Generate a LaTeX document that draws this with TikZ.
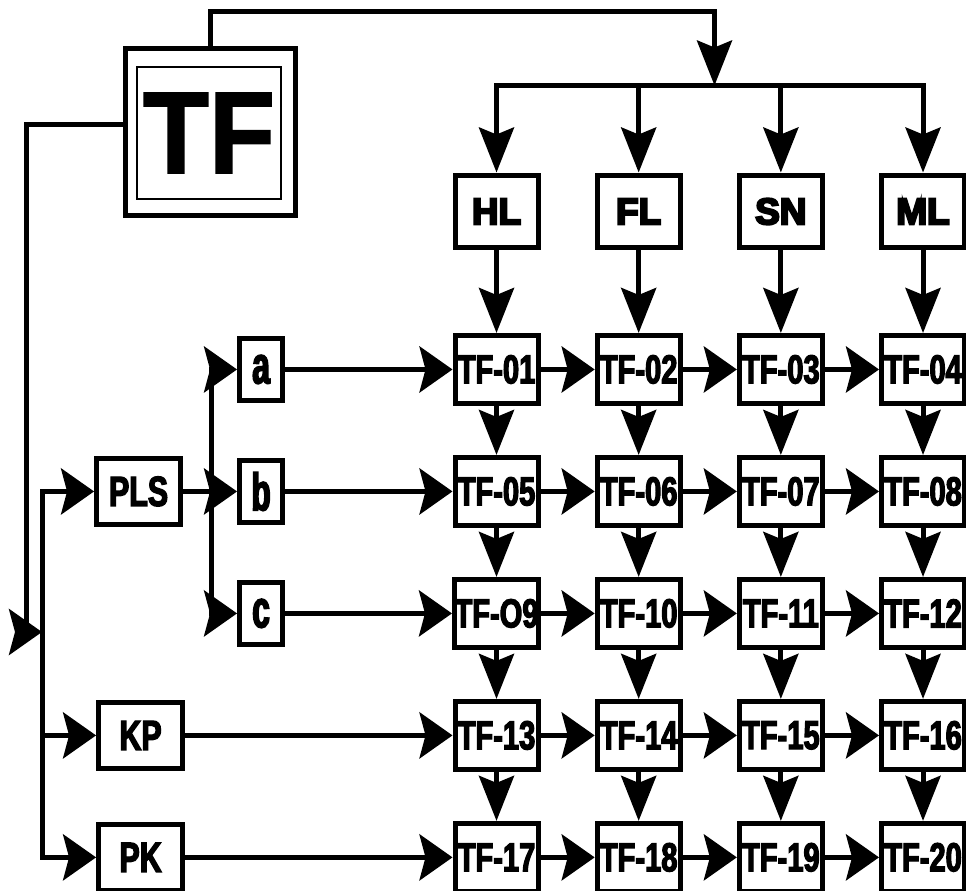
\documentclass[tikz,border=0pt]{standalone}
\usepackage{fontspec}
\setmainfont{Liberation Sans}
\newfontfamily\headfont[BoldFeatures={FakeBold=6}]{Liberation Sans}
\newfontfamily\narrowfont[FakeStretch=0.72, BoldFeatures={FakeBold=3}]{Liberation Sans}
\newfontfamily\letterfont[FakeStretch=0.6, BoldFeatures={FakeBold=3}]{Liberation Sans}
\newfontfamily\bigfont[FakeStretch=0.93, BoldFeatures={FakeBold=1.5}]{Liberation Sans}
\usepackage{tikz}
\usetikzlibrary{positioning,arrows.meta}

\begin{document}
\begin{tikzpicture}[x=0.02cm, y=-0.02cm, on grid,
    block/.style={draw, line width=0.1cm, inner sep=0pt, minimum width=1.66cm, minimum height=1.36cm, font=\narrowfont\bfseries\fontsize{23}{24}\selectfont},
    head/.style={block, minimum height=1.46cm, font=\headfont\bfseries\fontsize{21}{22}\selectfont},
    side/.style={block, minimum width=1.68cm, minimum height=1.32cm, font=\narrowfont\bfseries\fontsize{24}{25}\selectfont},
    letter/.style={block, minimum width=0.86cm, minimum height=1.24cm, font=\letterfont\bfseries\fontsize{30}{31}\selectfont},
    arrow/.style={-{Stealth[length=0.66cm, width=0.92cm, inset=0.12cm]}, line width=0.1cm},
    darrow/.style={-{Stealth[length=0.9cm, width=0.7cm, inset=0.14cm]}, line width=0.1cm},
]
\useasboundingbox (0,0) rectangle (966,891);
\clip (0,0) rectangle (966,891);

\node[block, minimum width=3.4cm, minimum height=3.34cm] (tf) at (210.5,132) {};
\node[draw, line width=0.04cm, inner sep=0pt, minimum width=2.88cm, minimum height=2.64cm, font=\bigfont\bfseries\fontsize{66}{66}\selectfont] (tfin) at (209,133) {TF};

% top row
\node[head] (hl) at (496.5,211.5) {HL};
\node[head, right=2.844cm of hl] (fl) {FL};
\node[head, right=2.844cm of fl] (sn) {SN};
\node[head, right=2.844cm of sn] (ml) {ML};

% grid
\node[block, below=3.16cm of hl] (t1) {TF-01};
\node[block, right=2.844cm of t1] (t2) {TF-02};
\node[block, right=2.844cm of t2] (t3) {TF-03};
\node[block, right=2.844cm of t3] (t4) {TF-04};
\node[block, below=2.44cm of t1] (t5) {TF-05};
\node[block, right=2.844cm of t5] (t6) {TF-06};
\node[block, right=2.844cm of t6] (t7) {TF-07};
\node[block, right=2.844cm of t7] (t8) {TF-08};
\node[block, below=2.44cm of t5] (t9) {TF-O9};
\node[block, right=2.844cm of t9] (t10) {TF-10};
\node[block, right=2.844cm of t10] (t11) {TF-11};
\node[block, right=2.844cm of t11] (t12) {TF-12};
\node[block, below=2.44cm of t9] (t13) {TF-13};
\node[block, right=2.844cm of t13] (t14) {TF-14};
\node[block, right=2.844cm of t14] (t15) {TF-15};
\node[block, right=2.844cm of t15] (t16) {TF-16};
\node[block, below=2.44cm of t13] (t17) {TF-17};
\node[block, right=2.844cm of t17] (t18) {TF-18};
\node[block, right=2.844cm of t18] (t19) {TF-19};
\node[block, right=2.844cm of t19] (t20) {TF-20};

% left side
\node[letter, left=4.71cm of t1] (a) {a};
\node[letter, left=4.71cm of t5] (b) {b};
\node[letter, left=4.71cm of t9] (c) {c};
\node[side, left=2.45cm of b] (pls) {PLS};
\node[side, left=7.12cm of t13] (kp) {KP};
\node[side, left=7.12cm of t17] (pk) {PK};

\coordinate (tc) at (714.5,12);
\coordinate (bus) at (714.5,85.5);
\coordinate (lc) at (26,632);
\coordinate (lbus) at (42,632);
\coordinate (pbus) at (211,491.5);

\draw[darrow] (tf.north) |- (tc) -- (bus);
\draw[darrow] (bus) -| (hl); \draw[darrow] (bus) -| (fl); \draw[darrow] (bus) -| (sn); \draw[darrow] (bus) -| (ml);
\draw[darrow] (hl)--(t1); \draw[darrow] (fl)--(t2); \draw[darrow] (sn)--(t3); \draw[darrow] (ml)--(t4);

\draw[arrow] ([yshift=0.14cm]tf.west) -| (lc) -- (lbus);
\draw[arrow] (lbus) |- (pls); \draw[arrow] (lbus) |- (kp); \draw[arrow] (lbus) |- (pk);
\draw[arrow] (pls) -- (b); \draw[arrow] (pbus) |- (a); \draw[arrow] (pbus) |- (c);
\draw[arrow] (a)--(t1); \draw[arrow] (b)--(t5); \draw[arrow] (c)--(t9);
\draw[arrow] (kp)--(t13); \draw[arrow] (pk)--(t17);

\draw[arrow] (t1)--(t2); \draw[arrow] (t2)--(t3); \draw[arrow] (t3)--(t4);
\draw[arrow] (t5)--(t6); \draw[arrow] (t6)--(t7); \draw[arrow] (t7)--(t8);
\draw[arrow] (t9)--(t10); \draw[arrow] (t10)--(t11); \draw[arrow] (t11)--(t12);
\draw[arrow] (t13)--(t14); \draw[arrow] (t14)--(t15); \draw[arrow] (t15)--(t16);
\draw[arrow] (t17)--(t18); \draw[arrow] (t18)--(t19); \draw[arrow] (t19)--(t20);

\draw[darrow] (t1)--(t5); \draw[darrow] (t2)--(t6); \draw[darrow] (t3)--(t7); \draw[darrow] (t4)--(t8);
\draw[darrow] (t5)--(t9); \draw[darrow] (t6)--(t10); \draw[darrow] (t7)--(t11); \draw[darrow] (t8)--(t12);
\draw[darrow] (t9)--(t13); \draw[darrow] (t10)--(t14); \draw[darrow] (t11)--(t15); \draw[darrow] (t12)--(t16);
\draw[darrow] (t13)--(t17); \draw[darrow] (t14)--(t18); \draw[darrow] (t15)--(t19); \draw[darrow] (t16)--(t20);
\end{tikzpicture}
\end{document}
